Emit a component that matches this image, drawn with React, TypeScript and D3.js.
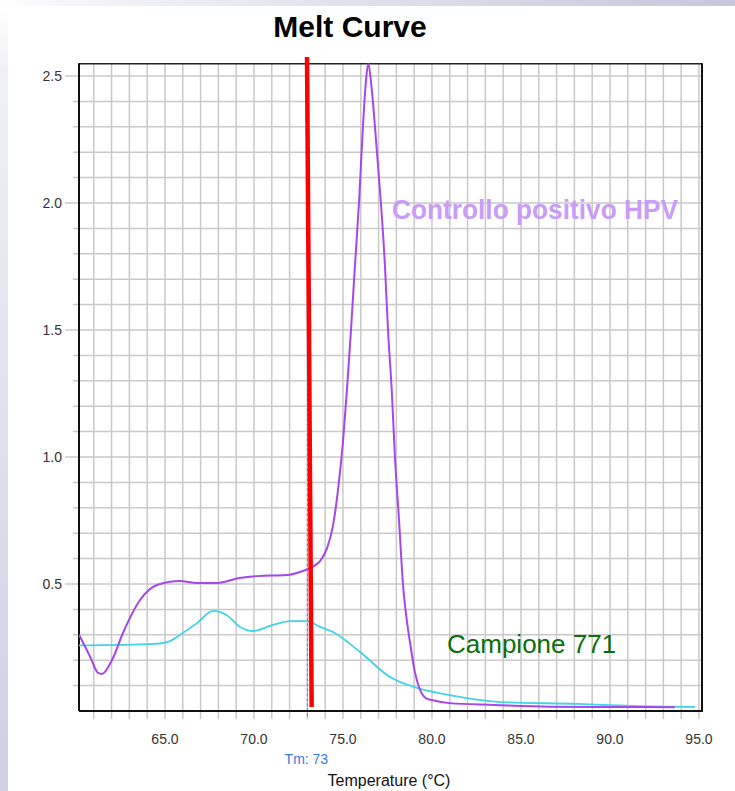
import React from "react";
import * as d3 from "d3";

const purpleT = [60.17, 60.8, 61.24, 61.46, 62.02, 62.64, 63.6, 64.55, 65.84, 66.8, 67.92, 69.2, 70.17, 71.85, 72.58, 73.15, 73.71, 74.1, 74.44, 74.72, 75.0, 75.23, 75.45, 75.67, 75.9, 76.12, 76.29, 76.42, 76.57, 76.74, 77.02, 77.13, 77.36, 77.53, 77.75, 77.92, 78.15, 78.37, 78.6, 78.77, 79.05, 79.33, 79.67, 80.0, 81.0, 83.5, 86.6, 89.4, 93.65];
const purpleV = [0.3, 0.213, 0.15, 0.146, 0.2, 0.307, 0.437, 0.496, 0.512, 0.504, 0.504, 0.524, 0.531, 0.535, 0.547, 0.563, 0.59, 0.64, 0.73, 0.87, 1.06, 1.27, 1.5, 1.75, 2.0, 2.3, 2.48, 2.55, 2.48, 2.35, 2.1, 2.0, 1.75, 1.5, 1.25, 1.0, 0.75, 0.5, 0.35, 0.268, 0.15, 0.083, 0.05, 0.043, 0.031, 0.024, 0.017, 0.016, 0.015];

const cyanT = [60.17, 64.44, 65.17, 66.0, 66.8, 67.7, 68.45, 69.22, 69.95, 71.07, 72.02, 72.98, 73.71, 74.44, 75.96, 77.64, 79.16, 80.62, 82.3, 83.82, 88.15, 91.29, 94.78];
const cyanV = [0.258, 0.264, 0.272, 0.307, 0.346, 0.394, 0.378, 0.331, 0.315, 0.339, 0.354, 0.354, 0.331, 0.311, 0.232, 0.134, 0.091, 0.067, 0.047, 0.035, 0.028, 0.02, 0.016];

const xTickLabels = ["65.0", "70.0", "75.0", "80.0", "85.0", "90.0", "95.0"];
const yTickLabels = ["0.5", "1.0", "1.5", "2.0", "2.5"];
const xGrid = d3.range(61, 96, 1);
const yGrid = d3.range(1, 26, 1).map((d) => d / 10);

const redLineT = [72.98, 73.24];
const redLineV = [2.575, 0.016];
const tmValue = 73;

const W = 735;
const H = 791;
const left = 79, right = 702, top = 63.3, bottom = 711;

export default function App() {
  const x = d3.scaleLinear().domain([60.17, 95.17]).range([left, right]);
  const y = d3.scaleLinear().domain([0, 2.55]).range([bottom, top]);

  const line = d3
    .line<[number, number]>()
    .x((d) => x(d[0]))
    .y((d) => y(d[1]))
    .curve(d3.curveMonotoneX);

  const purple = purpleT.map((t, i) => [t, purpleV[i]] as [number, number]);
  const cyan = cyanT.map((t, i) => [t, cyanV[i]] as [number, number]);
  const red = redLineT.map((t, i) => [t, redLineV[i]] as [number, number]);
  const redLine = d3.line<[number, number]>().x((d) => x(d[0])).y((d) => y(d[1]));

  const font = "'Liberation Sans', Arial, sans-serif";
  const gridColor = "#c9c9c9";

  return (
    <svg
      width={W}
      height={H}
      style={{ position: "absolute", left: 0, top: 0, display: "block" }}
      fontFamily={font}
    >
      <defs>
        <linearGradient id="topband" x1="0" x2="1" y1="0" y2="0">
          <stop offset="0" stopColor="#ffffff" />
          <stop offset="0.1" stopColor="#f4f4f9" />
          <stop offset="1" stopColor="#c6c6de" />
        </linearGradient>
        <linearGradient id="leftband" x1="0" x2="0" y1="0" y2="1">
          <stop offset="0" stopColor="#ffffff" />
          <stop offset="0.08" stopColor="#f0f0f7" />
          <stop offset="1" stopColor="#cfcfe5" />
        </linearGradient>
        <clipPath id="plotclip">
          <rect x={left} y={top} width={right - left} height={bottom - top} />
        </clipPath>
      </defs>
      <rect x={0} y={0} width={W} height={H} fill="#ffffff" />
      <rect x={0} y={0} width={W} height={6} fill="url(#topband)" />
      <rect x={0} y={6} width={8} height={H - 6} fill="url(#leftband)" />

      {/* title */}
      <text x={350} y={37} textAnchor="middle" fontSize={30} fontWeight="bold" fill="#000">
        Melt Curve
      </text>

      {/* grid */}
      {xGrid.map((t) => (
        <line key={"vx" + t} x1={x(t)} x2={x(t)} y1={top} y2={bottom + 8} stroke={gridColor} strokeWidth={1.5} />
      ))}
      {yGrid.map((v) => (
        <line
          key={"hy" + v}
          x1={Math.round(v * 100) % 50 === 0 ? left - 14 : left - 6}
          x2={right}
          y1={y(v)}
          y2={y(v)}
          stroke={gridColor}
          strokeWidth={1.5}
        />
      ))}

      {/* Tm dashed line */}
      <line
        x1={x(tmValue)}
        x2={x(tmValue)}
        y1={top}
        y2={bottom + 6}
        stroke="#4a7ff0"
        strokeWidth={1}
        strokeDasharray="3,2"
      />

      {/* frame */}
      <line x1={left} x2={right} y1={top + 0.5} y2={top + 0.5} stroke="#222" strokeWidth={1.5} />
      <line x1={right} x2={right} y1={top} y2={bottom} stroke="#111" strokeWidth={2} />
      <line x1={left} x2={left} y1={top} y2={bottom} stroke="#111" strokeWidth={2} />
      <line x1={left} x2={right + 1} y1={bottom} y2={bottom} stroke="#111" strokeWidth={2} />

      {/* curves */}
      <g clipPath="url(#plotclip)">
        <path d={line(cyan) || ""} fill="none" stroke="#40d4e6" strokeWidth={1.8} />
        <path d={line(purple) || ""} fill="none" stroke="#a646ec" strokeWidth={2} />
      </g>

      {/* red line */}
      <path d={redLine(red) || ""} fill="none" stroke="#ff0000" strokeWidth={4.5} />

      {/* axis labels */}
      {xTickLabels.map((l) => (
        <text key={"xl" + l} x={x(+l)} y={744} textAnchor="middle" fontSize={14} fill="#333">
          {l}
        </text>
      ))}
      {yTickLabels.map((l) => (
        <text key={"yl" + l} x={62} y={y(+l) + 5} textAnchor="end" fontSize={14} fill="#333">
          {l}
        </text>
      ))}
      <text x={x(tmValue) - 1} y={764} textAnchor="middle" fontSize={14} fill="#3a78e8">
        Tm: 73
      </text>
      <text x={389} y={786} textAnchor="middle" fontSize={16} fill="#111">
        Temperature (°C)
      </text>

      {/* annotations */}
      <text x={392} y={219} fontSize={27} fontWeight="bold" fill="#c99cf8" textLength={286} lengthAdjust="spacingAndGlyphs">
        Controllo positivo HPV
      </text>
      <text x={447} y={653} fontSize={26} fill="#0b6e0b">
        Campione 771
      </text>
    </svg>
  );
}
